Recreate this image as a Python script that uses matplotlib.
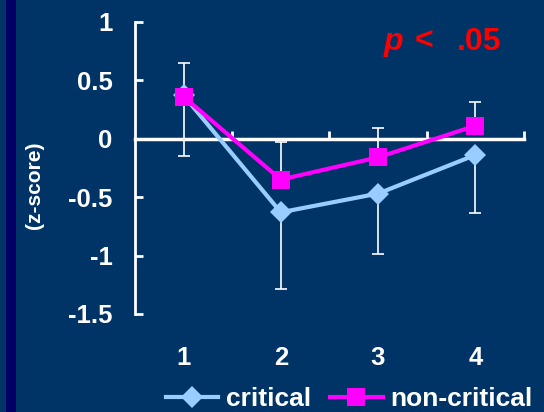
"""
z-score 折线图：critical vs non-critical（深蓝背景的幻灯片风格）
"""

import matplotlib
matplotlib.use('Agg')
import matplotlib.pyplot as plt
import matplotlib.patches as patches

plt.rcParams['font.family'] = ['Liberation Sans', 'DejaVu Sans']
plt.rcParams['font.weight'] = 'bold'

# 数据
positions = [1, 2, 3, 4]
position_labels = ['1', '2', '3', '4']
critical = [0.37, -0.63, -0.47, -0.14]
critical_err_low = [0.52, 0.66, 0.52, 0.50]
non_critical = [0.36, -0.35, -0.16, 0.11]
non_critical_err_high = [0.29, 0.32, 0.25, 0.20]

bg = '#003366'
stripe = '#000066'
light_blue = '#99ccff'
magenta = '#ff00ff'

fig = plt.figure(figsize=(5.44, 4.12), dpi=100, facecolor=bg)
fig.patches.append(patches.Rectangle((6 / 544, 0), 10 / 544, 1, transform=fig.transFigure,
                                     facecolor=stripe, edgecolor='none', zorder=0))

ax = fig.add_axes([0.248, 0.238, 0.715, 0.709])
ax.set_facecolor(bg)

# 误差线（critical 只画下方，non-critical 只画上方）
ax.errorbar(positions, critical, yerr=[critical_err_low, [0] * 4], fmt='none',
            ecolor='white', elinewidth=1.2, capsize=4, capthick=1.2, zorder=2)
ax.errorbar(positions, non_critical, yerr=[[0] * 4, non_critical_err_high], fmt='none',
            ecolor='white', elinewidth=1.2, capsize=4, capthick=1.2, zorder=2)

l1, = ax.plot(positions, critical, color=light_blue, lw=3, marker='D',
              markersize=11, markeredgewidth=0, label='critical', zorder=3)
l2, = ax.plot(positions, non_critical, color=magenta, lw=3, marker='s',
              markersize=13, markeredgewidth=0, label='non-critical', zorder=4)

ax.set_xlim(0.5, 4.5)
ax.set_ylim(-1.5, 1)

# 坐标轴样式
for side in ('top', 'right'):
    ax.spines[side].set_visible(False)
ax.spines['left'].set_color('white')
ax.spines['left'].set_linewidth(2)
ax.spines['bottom'].set_position(('data', 0))
ax.spines['bottom'].set_color('white')
ax.spines['bottom'].set_linewidth(2.5)

ax.set_yticks([1, 0.5, 0, -0.5, -1, -1.5])
ax.set_yticklabels(['1', '0.5', '0', '-0.5', '-1', '-1.5'])
ax.tick_params(axis='y', direction='in', length=6, width=2, colors='white',
               labelsize=18.5, pad=16)
ax.set_xticks([1.5, 2.5, 3.5, 4.5])
ax.set_xticklabels([])
ax.tick_params(axis='x', direction='in', length=6, width=2, colors='white')

for x, lab in zip(positions, position_labels):
    ax.text(x, -0.15, lab, transform=ax.get_xaxis_transform(), ha='center',
            va='center', color='white', fontsize=18.5, fontweight='bold')

fig.text(0.064, 0.551, '(z-score)', rotation=90, ha='center', va='center',
         color='white', fontsize=15, fontweight='bold')

# p 值标注
fig.text(0.706, 0.879, 'p', ha='left', va='baseline', color='red',
         fontsize=23, fontweight='bold', fontstyle='italic')
fig.text(0.763, 0.879, '<', ha='left', va='baseline', color='red',
         fontsize=23, fontweight='bold')
fig.text(0.921, 0.879, '.05', ha='right', va='baseline', color='red',
         fontsize=23, fontweight='bold')

fig.legend(handles=[l1, l2], loc='center', bbox_to_anchor=(0.642, 0.032), ncol=2,
           frameon=False, fontsize=19, labelcolor='white', handlelength=2.0,
           handletextpad=0.3, columnspacing=0.7, borderpad=0, borderaxespad=0)

fig.savefig('out.png', dpi=100, facecolor=bg)
